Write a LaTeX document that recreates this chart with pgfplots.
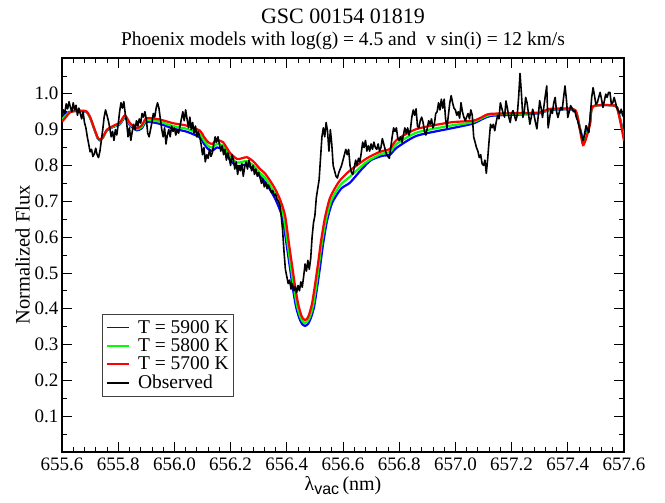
\documentclass[border=0pt]{standalone}
\usepackage{fontspec}
\setmainfont{Liberation Serif}
\newfontfamily\helv{Liberation Sans}
\usepackage{pgfplots}
\pgfplotsset{compat=1.18}

% Phoenix model spectra (T = 5900, 5800, 5700 K) around H-alpha
\pgfplotstableread{
x y
655.600 0.936
655.614 0.945
655.628 0.950
655.646 0.952
655.685 0.950
655.700 0.933
655.714 0.903
655.728 0.874
655.735 0.870
655.746 0.878
655.760 0.898
655.781 0.907
655.806 0.915
655.824 0.934
655.842 0.912
655.866 0.898
655.884 0.904
655.901 0.922
655.949 0.916
655.995 0.903
656.045 0.894
656.091 0.878
656.105 0.861
656.120 0.846
656.134 0.841
656.152 0.850
656.173 0.845
656.198 0.815
656.223 0.798
656.240 0.800
656.258 0.802
656.280 0.790
656.305 0.769
656.322 0.755
656.340 0.733
656.358 0.708
656.376 0.675
656.387 0.645
656.401 0.570
656.412 0.510
656.422 0.455
656.433 0.405
656.444 0.375
656.454 0.358
656.465 0.352
656.476 0.358
656.486 0.375
656.497 0.405
656.507 0.455
656.518 0.515
656.529 0.580
656.543 0.645
656.561 0.695
656.593 0.735
656.625 0.752
656.667 0.790
656.700 0.815
656.740 0.827
656.767 0.830
656.792 0.850
656.863 0.883
656.981 0.903
657.063 0.917
657.123 0.938
657.230 0.942
657.301 0.946
657.337 0.955
657.418 0.956
657.432 0.943
657.443 0.905
657.454 0.876
657.465 0.888
657.479 0.920
657.490 0.965
657.568 0.967
657.579 0.952
657.590 0.918
657.600 0.883
}\tfiveninehundred

\pgfplotstableread{
x y
655.600 0.929
655.614 0.940
655.628 0.949
655.646 0.952
655.685 0.951
655.700 0.934
655.714 0.904
655.728 0.875
655.735 0.871
655.746 0.879
655.760 0.899
655.781 0.908
655.806 0.917
655.824 0.937
655.842 0.915
655.866 0.901
655.884 0.908
655.901 0.927
655.949 0.922
655.995 0.910
656.045 0.902
656.091 0.887
656.105 0.870
656.120 0.855
656.134 0.850
656.152 0.860
656.173 0.855
656.198 0.825
656.223 0.808
656.240 0.810
656.258 0.812
656.280 0.801
656.305 0.779
656.322 0.766
656.340 0.745
656.358 0.721
656.376 0.690
656.390 0.652
656.404 0.575
656.415 0.515
656.425 0.460
656.436 0.410
656.447 0.379
656.456 0.365
656.465 0.360
656.474 0.365
656.483 0.379
656.494 0.410
656.504 0.460
656.514 0.520
656.525 0.585
656.540 0.650
656.558 0.702
656.590 0.745
656.625 0.769
656.676 0.805
656.700 0.818
656.735 0.832
656.767 0.838
656.792 0.861
656.863 0.892
656.981 0.911
657.063 0.921
657.123 0.941
657.230 0.944
657.301 0.947
657.337 0.956
657.418 0.957
657.432 0.944
657.443 0.902
657.454 0.866
657.465 0.881
657.479 0.917
657.490 0.965
657.568 0.967
657.579 0.951
657.590 0.914
657.600 0.876
}\tfiveeighthundred

\pgfplotstableread{
x y
655.600 0.922
655.614 0.935
655.628 0.948
655.646 0.952
655.685 0.952
655.700 0.935
655.714 0.905
655.728 0.876
655.735 0.872
655.746 0.880
655.760 0.900
655.781 0.910
655.806 0.920
655.824 0.940
655.842 0.918
655.866 0.904
655.884 0.912
655.901 0.932
655.949 0.928
655.995 0.918
656.045 0.911
656.091 0.897
656.105 0.880
656.120 0.865
656.134 0.860
656.152 0.870
656.173 0.865
656.198 0.835
656.223 0.818
656.240 0.820
656.258 0.823
656.280 0.812
656.305 0.790
656.322 0.778
656.340 0.758
656.358 0.735
656.376 0.705
656.394 0.660
656.408 0.580
656.419 0.520
656.429 0.465
656.440 0.415
656.451 0.383
656.458 0.372
656.465 0.368
656.472 0.372
656.479 0.383
656.490 0.415
656.500 0.465
656.511 0.525
656.522 0.590
656.536 0.655
656.554 0.710
656.586 0.755
656.625 0.786
656.685 0.820
656.725 0.836
656.749 0.842
656.767 0.846
656.792 0.872
656.863 0.902
656.981 0.920
657.063 0.925
657.095 0.935
657.123 0.944
657.230 0.946
657.301 0.948
657.337 0.958
657.418 0.958
657.432 0.945
657.443 0.900
657.454 0.857
657.465 0.875
657.479 0.915
657.490 0.965
657.568 0.967
657.579 0.950
657.590 0.910
657.600 0.869
}\tfivesevenhundred

% Observed spectrum
\pgfplotstableread{
x y
655.600 0.935
655.605 0.955
655.610 0.945
655.615 0.972
655.620 0.958
655.625 0.978
655.630 0.962
655.635 0.950
655.640 0.975
655.645 0.955
655.650 0.968
655.655 0.940
655.660 0.960
655.665 0.945
655.670 0.930
655.675 0.950
655.680 0.920
655.685 0.905
655.690 0.880
655.695 0.860
655.700 0.838
655.705 0.845
655.710 0.825
655.715 0.832
655.720 0.848
655.725 0.830
655.730 0.822
655.735 0.840
655.740 0.870
655.745 0.900
655.750 0.935
655.755 0.955
655.760 0.940
655.765 0.925
655.770 0.905
655.775 0.880
655.780 0.895
655.785 0.870
655.790 0.900
655.795 0.885
655.800 0.915
655.805 0.950
655.810 0.975
655.815 0.960
655.820 0.978
655.825 0.945
655.830 0.920
655.835 0.880
655.840 0.905
655.845 0.870
655.850 0.895
655.855 0.915
655.860 0.900
655.865 0.925
655.870 0.910
655.875 0.930
655.880 0.918
655.885 0.945
655.890 0.935
655.895 0.950
655.900 0.930
655.905 0.890
655.910 0.880
655.915 0.900
655.920 0.920
655.925 0.945
655.930 0.935
655.935 0.960
655.940 0.975
655.945 0.960
655.950 0.930
655.955 0.900
655.960 0.880
655.965 0.905
655.970 0.860
655.975 0.885
655.980 0.900
655.985 0.880
655.990 0.910
655.995 0.895
656.000 0.905
656.005 0.885
656.010 0.900
656.015 0.890
656.020 0.910
656.025 0.930
656.030 0.950
656.035 0.925
656.040 0.955
656.045 0.930
656.050 0.905
656.055 0.935
656.060 0.900
656.065 0.920
656.070 0.890
656.075 0.910
656.080 0.880
656.085 0.895
656.090 0.880
656.095 0.860
656.100 0.830
656.105 0.850
656.110 0.810
656.115 0.830
656.120 0.820
656.125 0.845
656.130 0.825
656.135 0.835
656.140 0.860
656.145 0.880
656.150 0.865
656.155 0.880
656.160 0.860
656.165 0.840
656.170 0.855
656.175 0.830
656.180 0.845
656.185 0.815
656.190 0.835
656.195 0.820
656.200 0.800
656.205 0.830
656.210 0.815
656.215 0.790
656.220 0.810
656.225 0.775
656.230 0.800
656.235 0.785
656.240 0.805
656.245 0.770
656.250 0.795
656.255 0.810
656.260 0.790
656.265 0.815
656.270 0.800
656.275 0.785
656.280 0.800
656.285 0.775
656.290 0.790
656.295 0.770
656.300 0.780
656.305 0.765
656.310 0.750
656.315 0.762
656.320 0.740
656.325 0.752
656.330 0.735
656.335 0.745
656.340 0.735
656.345 0.725
656.350 0.730
656.355 0.715
656.360 0.720
656.365 0.705
656.370 0.700
656.375 0.690
656.380 0.660
656.385 0.620
656.390 0.560
656.395 0.510
656.400 0.490
656.405 0.470
656.410 0.480
656.415 0.455
656.420 0.470
656.425 0.450
656.430 0.462
656.435 0.445
656.440 0.465
656.445 0.450
656.450 0.475
656.455 0.460
656.460 0.490
656.465 0.525
656.470 0.505
656.475 0.535
656.480 0.510
656.485 0.540
656.490 0.600
656.495 0.640
656.500 0.660
656.505 0.710
656.510 0.735
656.515 0.760
656.520 0.820
656.525 0.880
656.530 0.905
656.535 0.880
656.540 0.920
656.545 0.895
656.550 0.840
656.555 0.900
656.560 0.860
656.565 0.800
656.570 0.785
656.575 0.770
656.580 0.765
656.585 0.780
656.590 0.790
656.595 0.800
656.600 0.815
656.605 0.830
656.610 0.845
656.615 0.830
656.620 0.845
656.625 0.800
656.630 0.780
656.635 0.775
656.640 0.795
656.645 0.815
656.650 0.800
656.655 0.820
656.660 0.810
656.665 0.835
656.670 0.865
656.675 0.850
656.680 0.870
656.685 0.840
656.690 0.855
656.695 0.840
656.700 0.860
656.705 0.845
656.710 0.865
656.715 0.850
656.720 0.845
656.725 0.860
656.730 0.840
656.735 0.850
656.740 0.875
656.745 0.860
656.750 0.845
656.755 0.830
656.760 0.825
656.765 0.820
656.770 0.850
656.775 0.880
656.780 0.905
656.785 0.895
656.790 0.905
656.795 0.875
656.800 0.870
656.805 0.880
656.810 0.865
656.815 0.885
656.820 0.905
656.825 0.890
656.830 0.905
656.835 0.885
656.840 0.900
656.845 0.935
656.850 0.955
656.855 0.940
656.860 0.958
656.865 0.910
656.870 0.905
656.875 0.925
656.880 0.935
656.885 0.920
656.890 0.895
656.895 0.885
656.900 0.905
656.905 0.925
656.910 0.915
656.915 0.930
656.920 0.905
656.925 0.915
656.930 0.945
656.935 0.950
656.940 0.975
656.945 0.955
656.950 0.985
656.955 0.960
656.960 0.985
656.965 0.930
656.970 0.905
656.975 0.940
656.980 0.975
656.985 0.995
656.990 0.975
656.995 0.960
657.000 0.955
657.005 0.940
657.010 0.950
657.015 0.932
657.020 0.975
657.025 0.950
657.030 0.935
657.035 0.925
657.040 0.935
657.045 0.945
657.050 0.930
657.055 0.955
657.060 0.940
657.065 0.880
657.070 0.865
657.075 0.850
657.080 0.840
657.085 0.822
657.090 0.830
657.095 0.805
657.100 0.800
657.105 0.815
657.110 0.778
657.115 0.820
657.120 0.870
657.125 0.915
657.130 0.905
657.135 0.915
657.140 0.897
657.145 0.920
657.150 0.940
657.155 0.930
657.160 0.975
657.165 0.960
657.170 0.945
657.175 0.935
657.180 0.980
657.185 0.960
657.190 0.935
657.195 0.920
657.200 0.945
657.205 0.953
657.210 0.940
657.215 0.925
657.220 0.940
657.225 0.990
657.230 1.057
657.235 1.000
657.240 0.934
657.245 0.950
657.250 0.990
657.255 0.975
657.260 0.945
657.265 0.915
657.270 0.935
657.275 0.957
657.280 0.940
657.285 0.920
657.290 0.902
657.295 0.940
657.300 0.981
657.305 0.960
657.310 0.934
657.315 0.965
657.320 0.995
657.325 1.022
657.330 0.905
657.335 0.930
657.340 0.957
657.345 0.945
657.350 0.975
657.355 0.990
657.360 0.950
657.365 0.934
657.370 0.950
657.375 0.962
657.380 0.955
657.385 0.990
657.390 1.022
657.395 0.985
657.400 0.934
657.405 0.950
657.410 0.967
657.415 0.960
657.420 0.950
657.425 0.953
657.430 0.935
657.435 0.925
657.440 0.910
657.445 0.897
657.450 0.880
657.455 0.869
657.460 0.890
657.465 0.911
657.470 0.900
657.475 0.892
657.480 0.940
657.485 0.990
657.490 1.017
657.495 0.995
657.500 0.971
657.505 0.975
657.510 0.990
657.515 1.004
657.520 0.985
657.525 0.962
657.530 0.980
657.535 0.999
657.540 0.990
657.545 1.004
657.550 1.004
657.555 0.971
657.560 0.975
657.565 0.990
657.570 0.975
657.575 0.960
657.580 0.953
657.585 0.945
657.590 0.957
657.595 0.940
657.600 0.934
}\observed

\begin{document}
\begin{tikzpicture}
\useasboundingbox (0bp,0bp) rectangle (665bp,503bp);
\begin{axis}[
  name=main,
  at={(62bp,51bp)}, anchor=south west,
  scale only axis, width=562bp, height=394bp,
  xmin=655.6, xmax=657.6, ymin=0, ymax=1.1,
  xtick={655.6,655.8,656.0,656.2,656.4,656.6,656.8,657.0,657.2,657.4,657.6},
  minor x tick num=4,
  ytick={0.1,0.2,0.3,0.4,0.5,0.6,0.7,0.8,0.9,1.0},
  minor ytick={0.05,0.15,0.25,0.35,0.45,0.55,0.65,0.75,0.85,0.95,1.05},
  scaled x ticks=false, scaled y ticks=false,
  tick align=inside,
  xtick pos=both, ytick pos=both,
  xticklabel pos=lower, yticklabel pos=left,
  major tick length=10bp, minor tick length=5bp,
  every tick/.style={black, line width=0.8bp},
  axis line style={black, line width=1.1bp},
  /pgf/number format/assume math mode=true,
  xticklabel style={/pgf/number format/fixed, /pgf/number format/fixed zerofill, /pgf/number format/precision=1,
    font=\fontsize{19bp}{19bp}\selectfont, yshift=-2bp},
  yticklabel style={/pgf/number format/fixed, /pgf/number format/fixed zerofill, /pgf/number format/precision=1,
    font=\fontsize{19bp}{19bp}\selectfont},
  xlabel={λ\raisebox{-4bp}{\helv\fontsize{16bp}{16bp}\selectfont vac}\,(nm)},
  xlabel style={at={(axis description cs:0.5,0)}, anchor=north, yshift=-24bp, inner sep=0pt,
    font=\fontsize{20bp}{20bp}\selectfont},
  ylabel={Normalized Flux},
  ylabel style={at={(axis description cs:-0.057,0.5)}, anchor=south, inner sep=0pt,
    font=\fontsize{20.5bp}{20.5bp}\selectfont},
  legend cell align=left,
  legend style={at={(0.0706,0.140)}, anchor=south west, draw=black!75, line width=0.7bp,
    font=\fontsize{19.5bp}{19.5bp}\selectfont, inner xsep=4bp, inner ysep=5bp,
    row sep=1.5bp,
    /tikz/every odd column/.append style={column sep=7bp},
    nodes={inner sep=1.2bp}},
]
\addplot[blue, line width=2.2bp, smooth, tension=0.4,
  legend image code/.code={\draw[blue, line width=1.8bp] (0bp,0bp) -- (22bp,0bp);}]
  table {\tfiveninehundred};
\addlegendentry{T = 5900 K}
\addplot[green, line width=2.2bp, smooth, tension=0.4,
  legend image code/.code={\draw[green, line width=1.8bp] (0bp,0bp) -- (22bp,0bp);}]
  table {\tfiveeighthundred};
\addlegendentry{T = 5800 K}
\addplot[red, line width=2.2bp, smooth, tension=0.4,
  legend image code/.code={\draw[red, line width=1.8bp] (0bp,0bp) -- (22bp,0bp);}]
  table {\tfivesevenhundred};
\addlegendentry{T = 5700 K}
\addplot[black, line width=1.6bp, line join=round,
  legend image code/.code={\draw[black, line width=1.8bp] (0bp,0bp) -- (22bp,0bp);}]
  table {\observed};
\addlegendentry{Observed}
\end{axis}
\node[anchor=base, font=\fontsize{22bp}{22bp}\selectfont] at ([yshift=34bp]main.north) {GSC 00154 01819};
\node[anchor=base, font=\fontsize{19.5bp}{19.5bp}\selectfont] at ([yshift=12bp]main.north)
  {Phoenix models with log(g) = 4.5 and\ \ v sin(i) = 12 km/s};
\end{tikzpicture}
\end{document}
